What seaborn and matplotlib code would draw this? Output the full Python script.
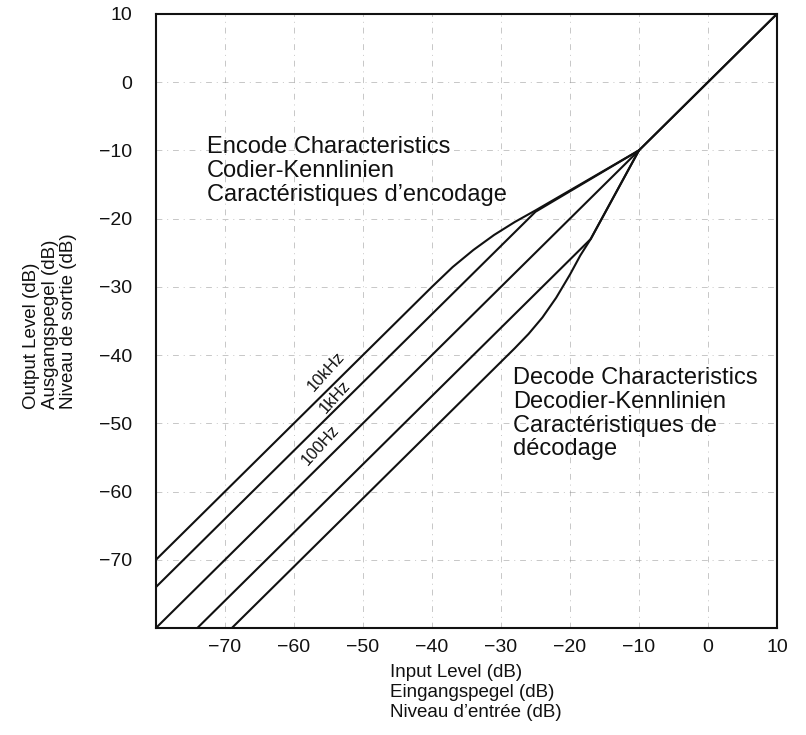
import numpy as np
import pandas as pd
import matplotlib
matplotlib.use("Agg")
import matplotlib.pyplot as plt
import seaborn as sns

# ----------------------------
# DATA (input level dB -> output level dB)
# ----------------------------

enc_10k_in = [-80, -40, -37, -34, -31, -28, -25, -10, 10]
enc_10k_out = [-70, -30, -27.1, -24.6, -22.4, -20.5, -18.8, -10, 10]

enc_1k_in = [-80, -25, -10]
enc_1k_out = [-74, -19, -10]

flat_100_in = [-80, 10]
flat_100_out = [-80, 10]

dec_1k_in = [-74, -17, -10]
dec_1k_out = [-80, -23, -10]

dec_10k_in = [-69, -28, -26, -24, -22, -20, -18.5, -17, -10]
dec_10k_out = [-80, -39, -36.9, -34.5, -31.6, -28.2, -25.4, -23, -10]

curves = [
    (enc_10k_in, enc_10k_out),
    (enc_1k_in, enc_1k_out),
    (flat_100_in, flat_100_out),
    (dec_1k_in, dec_1k_out),
    (dec_10k_in, dec_10k_out),
]

ticks = [-70, -60, -50, -40, -30, -20, -10, 0, 10]

freq_labels = ["10kHz", "1kHz", "100Hz"]
freq_label_x = [-55.3, -54.0, -56.2]
freq_label_y = [-42.4, -46.2, -53.2]

encode_text = "Encode Characteristics\nCodier-Kennlinien\nCaractéristiques d’encodage"
decode_text = "Decode Characteristics\nDecodier-Kennlinien\nCaractéristiques de\ndécodage"
x_title = "Input Level (dB)\nEingangspegel (dB)\nNiveau d’entrée (dB)"
y_title = "Output Level (dB)\nAusgangspegel (dB)\nNiveau de sortie (dB)"

# ----------------------------
# STYLE
# ----------------------------

sns.set_theme(style="white")
plt.rcParams["font.family"] = ["Liberation Sans", "DejaVu Sans"]

fig = plt.figure(figsize=(8.06, 7.35), dpi=100)
ax = fig.add_axes([0.1935, 0.1456, 0.7705, 0.8355])

# ----------------------------
# CURVES
# ----------------------------

for xs, ys in curves:
    df = pd.DataFrame({"inp": xs, "out": ys})
    sns.lineplot(data=df, x="inp", y="out", sort=False, estimator=None,
                 color="#111111", linewidth=1.5, ax=ax)

ax.set_xlim(-80, 10)
ax.set_ylim(-80, 10)
ax.set_xticks(ticks)
ax.set_yticks(ticks)

ax.grid(True, color="0.6", linestyle=(0, (6, 5, 1, 5)), linewidth=0.7, alpha=0.55)

for s in ax.spines.values():
    s.set_color("#111111")
    s.set_linewidth(1.5)

ax.tick_params(axis="both", direction="in", length=5, width=1, colors="#111111",
               labelsize=14)
ax.tick_params(axis="y", pad=17)
ax.tick_params(axis="x", pad=8)

# ----------------------------
# TEXT
# ----------------------------

for lab, lx, ly in zip(freq_labels, freq_label_x, freq_label_y):
    ax.text(lx, ly, lab, fontsize=12, rotation=48, ha="center", va="center",
            rotation_mode="anchor", color="#111111")

ax.text(-72.6, -7.9, encode_text, fontsize=17, ha="left", va="top",
        linespacing=1.12, color="#111111")
ax.text(-28.3, -41.8, decode_text, fontsize=17, ha="left", va="top",
        linespacing=1.1, color="#111111")

ax.set_xlabel(x_title, fontsize=13.5, linespacing=1.25, multialignment="left",
              color="#111111")
ax.xaxis.set_label_coords(0.515, -0.058)
ax.xaxis.label.set_verticalalignment("top")

ax.set_ylabel(y_title, fontsize=13.5, linespacing=1.12, multialignment="left",
              color="#111111")
ax.yaxis.set_label_coords(-0.17, 0.5)
ax.yaxis.label.set_verticalalignment("center")

plt.savefig("out.png", dpi=100)
